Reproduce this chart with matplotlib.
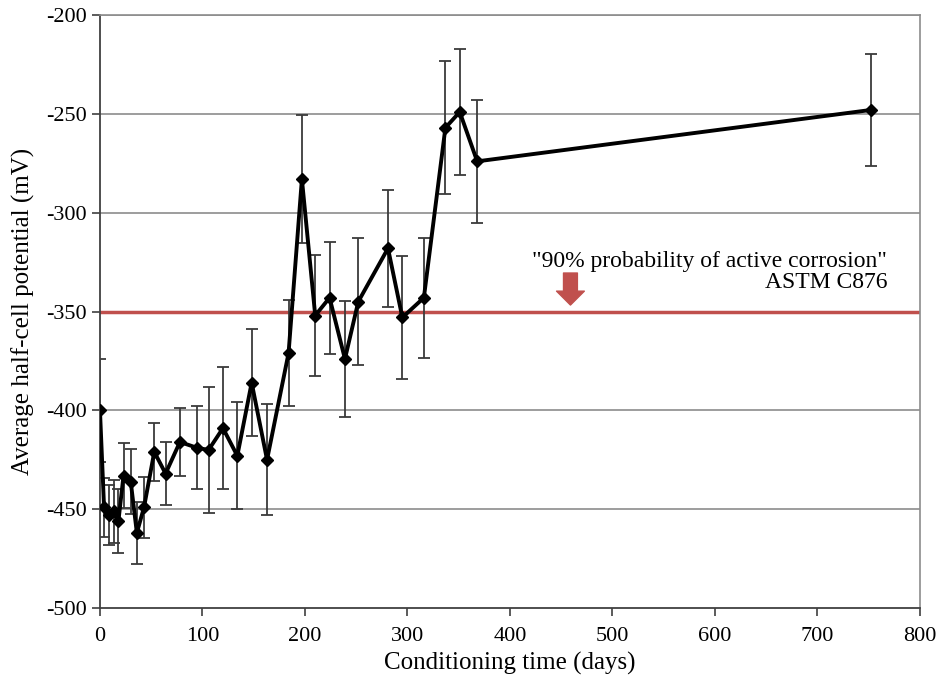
import matplotlib
matplotlib.use("Agg")
import matplotlib.pyplot as plt
from matplotlib.patches import FancyArrowPatch

# conditioning time (days) and average half-cell potential (mV)
days = [0, 4, 9, 14, 18, 23, 30, 36, 43, 53, 64, 78, 95, 106, 120, 134, 148,
        163, 184, 197, 210, 224, 239, 252, 281, 295, 316, 337, 351, 368, 752]
potential = [-400, -449, -453, -451, -456, -433, -436, -462, -449, -421, -432,
             -416, -419, -420, -409, -423, -386, -425, -371, -283, -352, -343,
             -374, -345, -318, -353, -343, -257, -249, -274, -248]
std_dev = [26, 15, 15, 16, 16, 16.5, 16.5, 15.5, 15.5, 14.6, 16, 17, 21, 32,
           31, 27, 27, 28, 27, 32.5, 30.6, 28.4, 29.3, 32, 29.5, 31, 30.3,
           33.7, 32, 31, 28.5]

threshold = -350
yticks = [-500, -450, -400, -350, -300, -250, -200]
xticks = [0, 100, 200, 300, 400, 500, 600, 700, 800]

plt.rcParams['font.family'] = ['Liberation Serif', 'DejaVu Serif']
plt.rcParams['axes.unicode_minus'] = False

fig = plt.figure(figsize=(9.43, 6.87), dpi=100)
ax = fig.add_axes([0.106, 0.115, 0.8696, 0.863])

for y in yticks[1:]:
    ax.axhline(y, color='#8c8c8c', lw=1.2, zorder=0)
ax.axhline(threshold, color='#c0504d', lw=2.5, zorder=1)

ax.errorbar(days, potential, yerr=std_dev, fmt='none', ecolor='#3a3a3a',
            elinewidth=1.3, capsize=4, capthick=1.3, zorder=2)
ax.plot(days, potential, color='black', lw=2.8, marker='D', ms=6.5, zorder=3)

arrow = FancyArrowPatch((459, -330.5), (459, -346.7),
                        arrowstyle='simple,head_width=20,head_length=10,tail_width=10',
                        mutation_scale=1, color='#c0504d', shrinkA=0, shrinkB=0,
                        zorder=4)
ax.add_patch(arrow)
ax.text(768, -330, '"90% probability of active corrosion"\nASTM C876',
        ha='right', va='center', fontsize=17, linespacing=1.0)

ax.set_xlim(0, 800)
ax.set_ylim(-500, -200)
ax.set_xticks(xticks)
ax.set_yticks(yticks)
ax.tick_params(labelsize=16, direction='out', length=6, width=1.2,
               colors='#404040', labelcolor='black')
ax.tick_params(axis='x', pad=8)
for side in ['left', 'bottom']:
    ax.spines[side].set_color('#404040')
    ax.spines[side].set_linewidth(1.3)
for side in ['right', 'top']:
    ax.spines[side].set_color('#8c8c8c')
    ax.spines[side].set_linewidth(1.2)

ax.set_xlabel('Conditioning time (days)', fontsize=18, labelpad=4)
ax.set_ylabel('Average half-cell potential (mV)', fontsize=18, labelpad=8)

fig.savefig('out.png', dpi=100)
